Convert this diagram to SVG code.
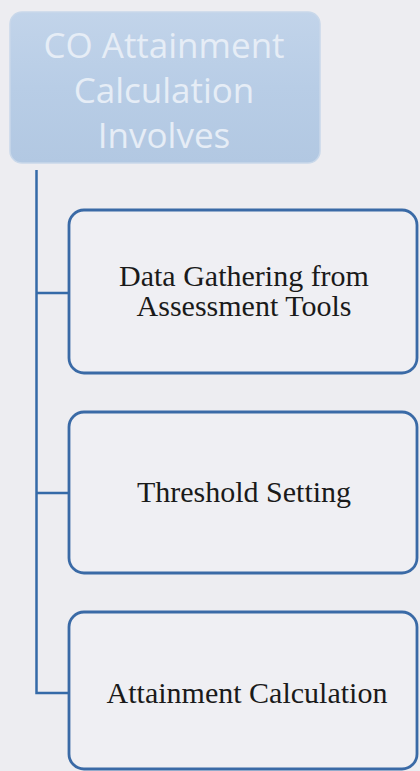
<svg xmlns="http://www.w3.org/2000/svg" width="420" height="771" viewBox="0 0 420 771">
<defs>
<linearGradient id="topg" x1="0" y1="0" x2="0" y2="1">
<stop offset="0" stop-color="#c2d4ea"/>
<stop offset="0.5" stop-color="#b8cde6"/>
<stop offset="1" stop-color="#b2c8e2"/>
</linearGradient>
</defs>
<style>
.bg{fill:#ededf1}
.box{fill:#efeff3;stroke:#3a6aa6;stroke-width:2.8}
.conn{fill:none;stroke:#356aa8;stroke-width:2.5}
.t{font-family:"Liberation Serif","Times New Roman",serif;font-size:30px;fill:#1a1a1a;text-anchor:middle}
.h{font-family:"Open Sans","Liberation Sans",sans-serif;font-size:35px;fill:#e6edf6;text-anchor:middle}
</style>
<rect class="bg" x="0" y="0" width="420" height="771"/>
<g id="connectors">
<path class="conn" d="M36.5 170 V693 H69"/>
<path class="conn" d="M36.5 293 H69"/>
<path class="conn" d="M36.5 493 H69"/>
</g>
<g id="root">
<rect x="10" y="12" width="310" height="151" rx="12" fill="url(#topg)" stroke="#c9d8ea" stroke-width="1.5"/>
<text class="h" x="164" y="58">CO Attainment</text>
<text class="h" x="164" y="103">Calculation</text>
<text class="h" x="164" y="148">Involves</text>
</g>
<g id="n1">
<rect class="box" x="69" y="210" width="348" height="163" rx="15"/>
<text class="t" x="244" y="286">Data Gathering from</text>
<text class="t" x="244" y="316">Assessment Tools</text>
</g>
<g id="n2">
<rect class="box" x="69" y="412" width="348" height="161" rx="15"/>
<text class="t" x="244" y="502">Threshold Setting</text>
</g>
<g id="n3">
<rect class="box" x="69" y="612" width="348" height="157" rx="15"/>
<text class="t" x="247" y="703">Attainment Calculation</text>
</g>
</svg>
